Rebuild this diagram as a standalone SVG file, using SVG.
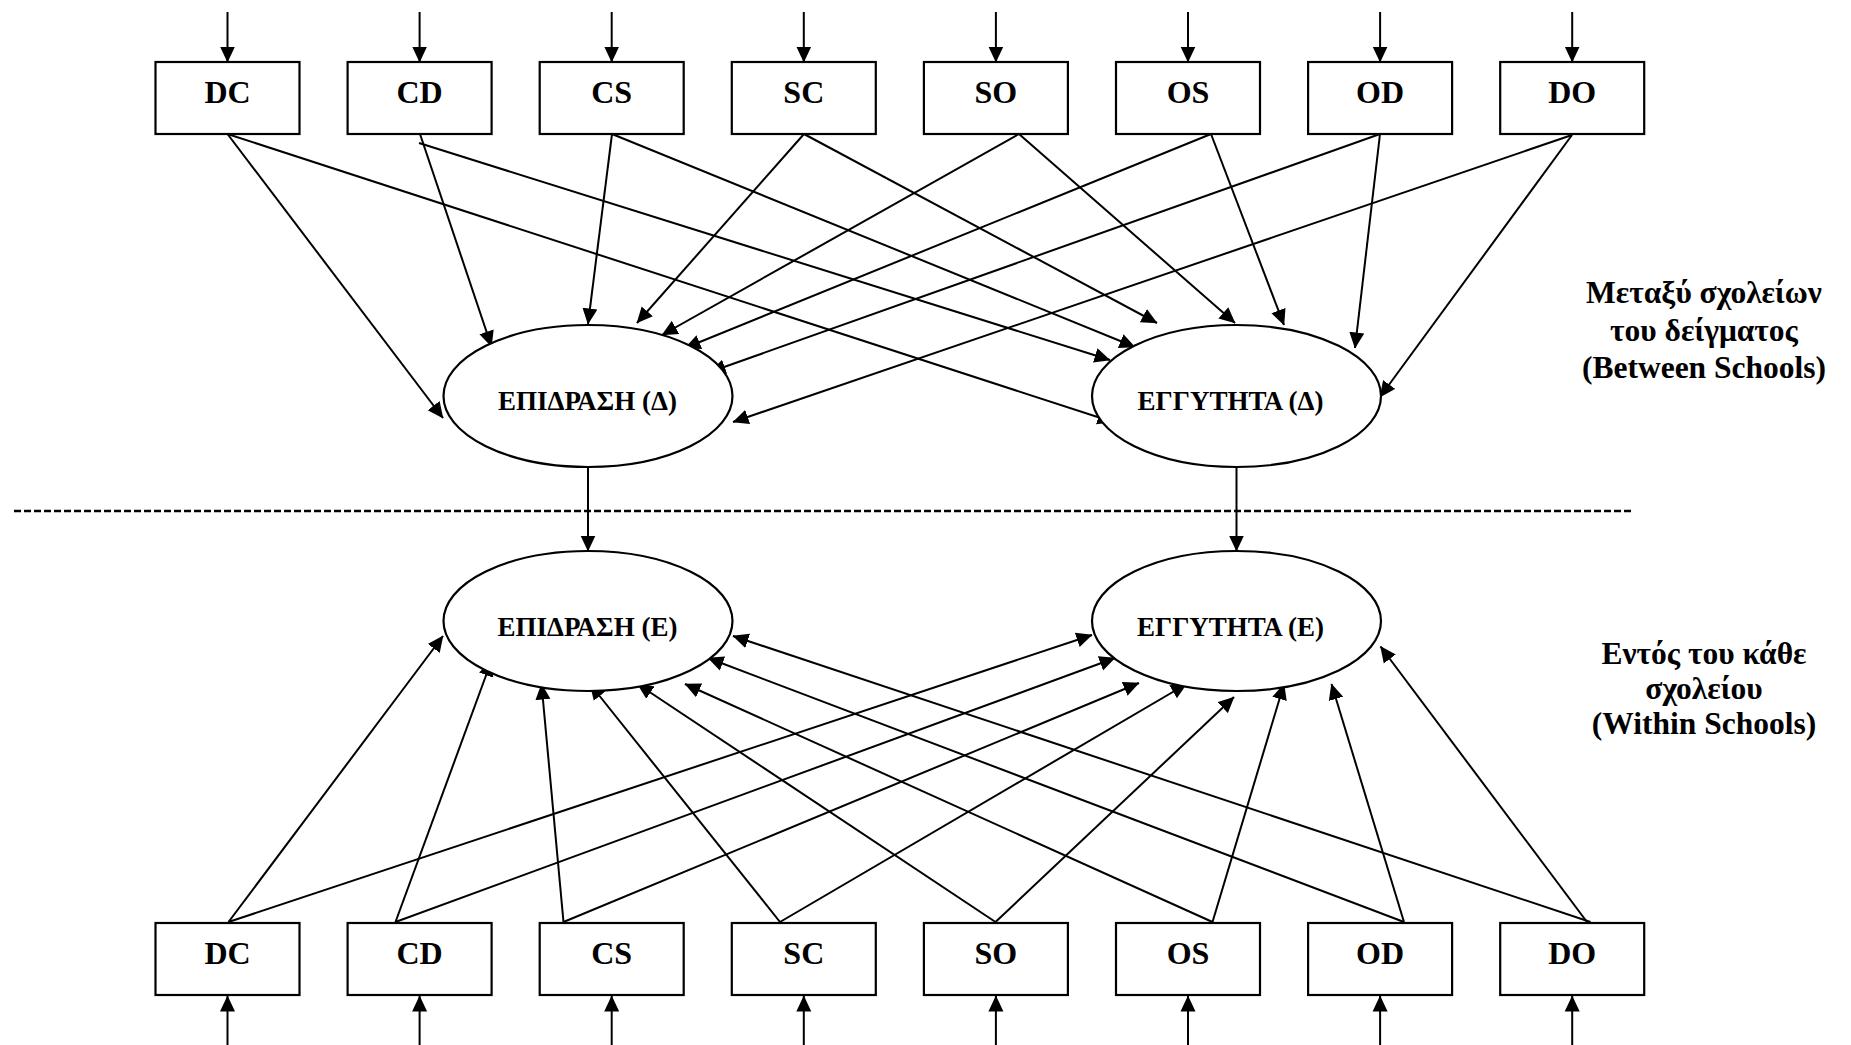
<svg xmlns="http://www.w3.org/2000/svg" width="1851" height="1045" viewBox="0 0 1851 1045">
  <style>
    .box { fill: #ffffff; stroke: #000000; stroke-width: 2.2; }
    .ell { fill: #ffffff; stroke: #000000; stroke-width: 2.2; }
    .lbl { font-family: "Liberation Serif", "Times New Roman", serif; font-weight: bold; font-size: 32px; fill: #000000; text-anchor: middle; }
    .elbl { font-family: "Liberation Serif", "Times New Roman", serif; font-weight: bold; font-size: 27px; fill: #000000; text-anchor: middle; }
    .side { font-family: "Liberation Serif", "Times New Roman", serif; font-weight: bold; font-size: 31.5px; fill: #000000; text-anchor: middle; }
    .conn line { stroke: #000000; stroke-width: 2; marker-end: url(#arrow); }
    .divider { stroke: #000000; stroke-width: 2.3; stroke-dasharray: 7 3; }
  </style>
  <defs>
    <marker id="arrow" viewBox="0 0 16 16" markerWidth="16" markerHeight="16" refX="15.5" refY="8" orient="auto" markerUnits="userSpaceOnUse">
      <path d="M0,0.5 L16,8 L0,15.5 Z" fill="#000000"/>
    </marker>
  </defs>
  <rect width="1851" height="1045" fill="#ffffff"/>

  <!-- connectors -->
  <g id="connectors">
    <g class="conn" id="inputs-top">
      <line x1="227.5" y1="12" x2="227.5" y2="62"/>
      <line x1="419.6" y1="12" x2="419.6" y2="62"/>
      <line x1="611.7" y1="12" x2="611.7" y2="62"/>
      <line x1="803.8" y1="12" x2="803.8" y2="62"/>
      <line x1="995.9" y1="12" x2="995.9" y2="62"/>
      <line x1="1188" y1="12" x2="1188" y2="62"/>
      <line x1="1380.1" y1="12" x2="1380.1" y2="62"/>
      <line x1="1572.2" y1="12" x2="1572.2" y2="62"/>
    </g>
    <g class="conn" id="inputs-bottom">
      <line x1="227.5" y1="1045" x2="227.5" y2="996"/>
      <line x1="419.6" y1="1045" x2="419.6" y2="996"/>
      <line x1="611.7" y1="1045" x2="611.7" y2="996"/>
      <line x1="803.8" y1="1045" x2="803.8" y2="996"/>
      <line x1="995.9" y1="1045" x2="995.9" y2="996"/>
      <line x1="1188" y1="1045" x2="1188" y2="996"/>
      <line x1="1380.1" y1="1045" x2="1380.1" y2="996"/>
      <line x1="1572.2" y1="1045" x2="1572.2" y2="996"/>
    </g>
    <g class="conn" id="between-links">
      <line x1="227.5" y1="134" x2="443" y2="418"/>
      <line x1="227.5" y1="134" x2="1113" y2="422"/>
      <line x1="420" y1="134" x2="491.5" y2="346.5"/>
      <line x1="419" y1="143" x2="1110" y2="360"/>
      <line x1="612" y1="134" x2="588" y2="324"/>
      <line x1="612" y1="134" x2="1135" y2="347"/>
      <line x1="804" y1="134" x2="637" y2="323"/>
      <line x1="804" y1="134" x2="1157" y2="323"/>
      <line x1="1019" y1="134" x2="662" y2="335"/>
      <line x1="1019" y1="134" x2="1235" y2="323"/>
      <line x1="1211" y1="134" x2="685" y2="348"/>
      <line x1="1211" y1="134" x2="1284" y2="325"/>
      <line x1="1380" y1="134" x2="710" y2="372"/>
      <line x1="1380" y1="134" x2="1355" y2="348"/>
      <line x1="1572" y1="135" x2="733" y2="422"/>
      <line x1="1572" y1="135" x2="1380" y2="397"/>
    </g>
    <g class="conn" id="level-links">
      <line x1="588" y1="467" x2="588" y2="551"/>
      <line x1="1236.5" y1="467" x2="1236.5" y2="551"/>
    </g>
    <g class="conn" id="within-links">
      <line x1="228.5" y1="922" x2="443" y2="636"/>
      <line x1="228.5" y1="922" x2="1092" y2="635"/>
      <line x1="395.5" y1="922" x2="491.5" y2="660.5"/>
      <line x1="395.5" y1="922" x2="1115" y2="658"/>
      <line x1="563.5" y1="922" x2="541.5" y2="684"/>
      <line x1="563.5" y1="922" x2="1139" y2="683"/>
      <line x1="780" y1="922" x2="590" y2="684"/>
      <line x1="780" y1="922" x2="1186.5" y2="684"/>
      <line x1="995.5" y1="922" x2="637.5" y2="684"/>
      <line x1="995.5" y1="922" x2="1234" y2="697"/>
      <line x1="1212.5" y1="922" x2="685" y2="684"/>
      <line x1="1212.5" y1="922" x2="1284" y2="684"/>
      <line x1="1404" y1="922" x2="708" y2="658"/>
      <line x1="1404" y1="922" x2="1331.5" y2="684"/>
      <line x1="1590.5" y1="922" x2="733" y2="636"/>
      <line x1="1596" y1="934" x2="1380.5" y2="646.5"/>
    </g>
  </g>

  <line class="divider" x1="14" y1="511" x2="1631" y2="511"/>

  <!-- observed indicators, between-school level -->
  <g id="top-DC"><rect class="box" x="155.5" y="62" width="144" height="72"/><text class="lbl" x="227.5" y="103">DC</text></g>
  <g id="top-CD"><rect class="box" x="347.6" y="62" width="144" height="72"/><text class="lbl" x="419.6" y="103">CD</text></g>
  <g id="top-CS"><rect class="box" x="539.7" y="62" width="144" height="72"/><text class="lbl" x="611.7" y="103">CS</text></g>
  <g id="top-SC"><rect class="box" x="731.8" y="62" width="144" height="72"/><text class="lbl" x="803.8" y="103">SC</text></g>
  <g id="top-SO"><rect class="box" x="923.9" y="62" width="144" height="72"/><text class="lbl" x="995.9" y="103">SO</text></g>
  <g id="top-OS"><rect class="box" x="1116" y="62" width="144" height="72"/><text class="lbl" x="1188" y="103">OS</text></g>
  <g id="top-OD"><rect class="box" x="1308.1" y="62" width="144" height="72"/><text class="lbl" x="1380.1" y="103">OD</text></g>
  <g id="top-DO"><rect class="box" x="1500.2" y="62" width="144" height="72"/><text class="lbl" x="1572.2" y="103">DO</text></g>

  <!-- latent factors -->
  <g id="effect-between"><ellipse class="ell" cx="588" cy="396" rx="144.5" ry="71"/><text class="elbl" x="587.5" y="410">ΕΠΙΔΡΑΣΗ (Δ)</text></g>
  <g id="proximity-between"><ellipse class="ell" cx="1236.5" cy="396" rx="144.5" ry="71"/><text class="elbl" x="1230.5" y="410">ΕΓΓΥΤΗΤΑ (Δ)</text></g>
  <g id="effect-within"><ellipse class="ell" cx="588" cy="621" rx="144.5" ry="70"/><text class="elbl" x="587.5" y="636">ΕΠΙΔΡΑΣΗ (Ε)</text></g>
  <g id="proximity-within"><ellipse class="ell" cx="1236.5" cy="621" rx="144.5" ry="70"/><text class="elbl" x="1230.5" y="636">ΕΓΓΥΤΗΤΑ (Ε)</text></g>

  <!-- observed indicators, within-school level -->
  <g id="bot-DC"><rect class="box" x="155.5" y="923" width="144" height="72"/><text class="lbl" x="227.5" y="964">DC</text></g>
  <g id="bot-CD"><rect class="box" x="347.6" y="923" width="144" height="72"/><text class="lbl" x="419.6" y="964">CD</text></g>
  <g id="bot-CS"><rect class="box" x="539.7" y="923" width="144" height="72"/><text class="lbl" x="611.7" y="964">CS</text></g>
  <g id="bot-SC"><rect class="box" x="731.8" y="923" width="144" height="72"/><text class="lbl" x="803.8" y="964">SC</text></g>
  <g id="bot-SO"><rect class="box" x="923.9" y="923" width="144" height="72"/><text class="lbl" x="995.9" y="964">SO</text></g>
  <g id="bot-OS"><rect class="box" x="1116" y="923" width="144" height="72"/><text class="lbl" x="1188" y="964">OS</text></g>
  <g id="bot-OD"><rect class="box" x="1308.1" y="923" width="144" height="72"/><text class="lbl" x="1380.1" y="964">OD</text></g>
  <g id="bot-DO"><rect class="box" x="1500.2" y="923" width="144" height="72"/><text class="lbl" x="1572.2" y="964">DO</text></g>

  <!-- level captions -->
  <g id="caption-between">
    <text class="side" x="1704" y="303">Μεταξύ σχολείων</text>
    <text class="side" x="1704" y="341">του δείγματος</text>
    <text class="side" x="1704" y="378">(Between Schools)</text>
  </g>
  <g id="caption-within">
    <text class="side" x="1704" y="664">Εντός του κάθε</text>
    <text class="side" x="1704" y="699">σχολείου</text>
    <text class="side" x="1704" y="734">(Within Schools)</text>
  </g>
</svg>
